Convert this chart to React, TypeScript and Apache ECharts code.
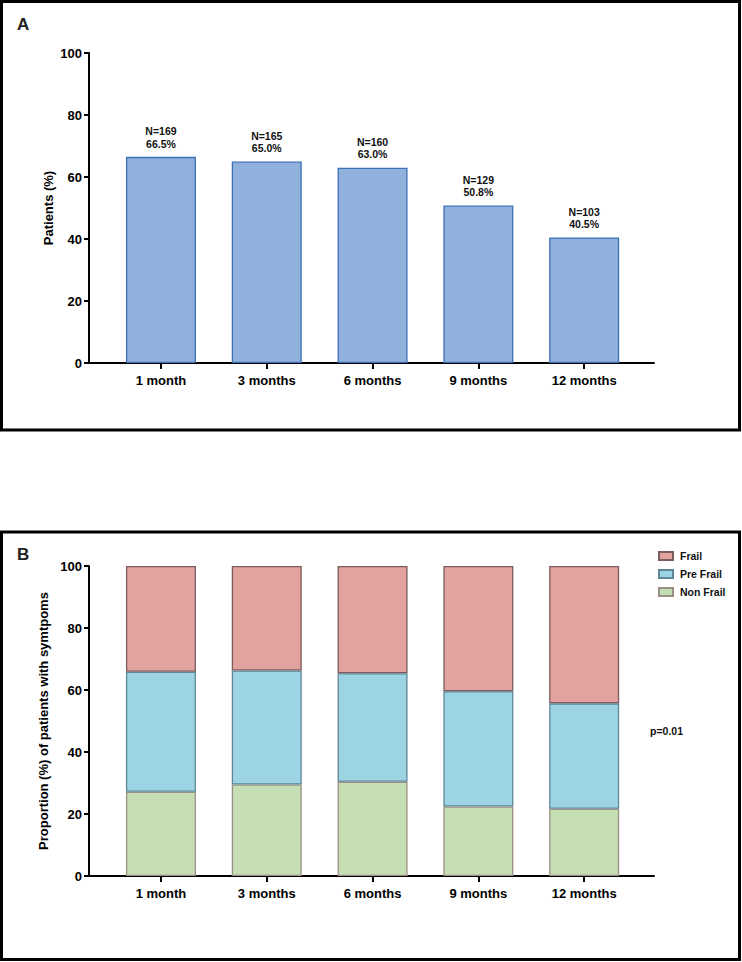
import React, { useEffect, useRef } from "react";
import * as echarts from "echarts";

const categories = ["1 month", "3 months", "6 months", "9 months", "12 months"];
const patientCounts = [169, 165, 160, 129, 103];
const patientPct = [66.5, 65.0, 63.0, 50.8, 40.5];
const nonFrail = [27.2, 29.5, 30.4, 22.4, 21.7];
const preFrail = [38.7, 36.8, 35.0, 37.2, 34.0];
const frail = [34.1, 33.7, 34.6, 40.4, 44.3];
const legendOrder = ["Frail", "Pre Frail", "Non Frail"];
const pValueText = "p=0.01";
const yAxisTitleA = "Patients (%)";
const yAxisTitleB = "Proportion (%) of patients with symtpoms";

const FONT = 'Arial, "Liberation Sans", Helvetica, sans-serif';
const positions = categories.map((_, i) => i);

export default function App() {
  const ref = useRef<HTMLDivElement>(null);
  useEffect(() => {
    document.body.style.margin = "0";
    const chart = echarts.init(ref.current!, null, { renderer: "svg" });

    const mkX = (gridIndex: number) => ({
      type: "value",
      gridIndex,
      min: -0.68,
      max: 4.66,
      splitLine: { show: false },
      axisLine: { show: true, onZero: false, lineStyle: { color: "#000", width: 2 } },
      axisTick: { show: true, customValues: positions, length: 6, lineStyle: { color: "#000", width: 2 } },
      axisLabel: {
        customValues: positions,
        formatter: (v: number) => categories[Math.round(v)] ?? "",
        color: "#000",
        fontFamily: FONT,
        fontWeight: "bold",
        fontSize: 13,
        margin: 11,
      },
    });
    const mkY = (gridIndex: number, name: string, nameGap: number) => ({
      type: "value",
      gridIndex,
      min: 0,
      max: 100,
      interval: 20,
      name,
      nameLocation: "middle",
      nameGap,
      nameMoveOverlap: false,
      nameTextStyle: { color: "#000", fontFamily: FONT, fontWeight: "bold", fontSize: 13 },
      splitLine: { show: false },
      axisLine: { show: true, onZero: false, lineStyle: { color: "#000", width: 2 } },
      axisTick: { show: true, length: 5, lineStyle: { color: "#000", width: 2 } },
      axisLabel: { color: "#000", fontFamily: FONT, fontWeight: "bold", fontSize: 13, margin: 7 },
    });

    const stackSeries = (name: string, values: number[], color: string, border: string) => ({
      name,
      type: "bar",
      xAxisIndex: 1,
      yAxisIndex: 1,
      stack: "frailty",
      barWidth: 70,
      encode: { x: 1, y: 0 },
      data: values.map((v, i) => [v, positions[i]]),
      itemStyle: { color, borderColor: border, borderWidth: 1.3 },
    });

    chart.setOption({
      animation: false,
      grid: [
        { left: 89, top: 53, width: 565, height: 310 },
        { left: 89, top: 566, width: 565, height: 310 },
      ],
      xAxis: [mkX(0), mkX(1)],
      yAxis: [mkY(0, yAxisTitleA, 34), mkY(1, yAxisTitleB, 39)],
      legend: {
        data: legendOrder,
        orient: "vertical",
        left: 653,
        top: 545,
        itemWidth: 14,
        itemHeight: 8,
        itemGap: 6,
        icon: "rect",
        textStyle: { color: "#111", fontFamily: FONT, fontWeight: "bold", fontSize: 10.5, lineHeight: 12, padding: [0, 0, 0, 2] },
      },
      graphic: [
        { type: "rect", shape: { x: 1.5, y: 1.5, width: 738, height: 428.5 }, style: { fill: "none", stroke: "#000", lineWidth: 3 }, silent: true },
        { type: "rect", shape: { x: 1.5, y: 532, width: 738, height: 427.5 }, style: { fill: "none", stroke: "#000", lineWidth: 3 }, silent: true },
        { type: "text", x: 17, y: 24, style: { text: "A", fill: "#222", font: `bold 17px ${FONT}`, verticalAlign: "middle" } },
        { type: "text", x: 17, y: 554, style: { text: "B", fill: "#222", font: `bold 17px ${FONT}`, verticalAlign: "middle" } },
        { type: "text", x: 650, y: 731, style: { text: pValueText, fill: "#111", font: `bold 10.5px ${FONT}`, verticalAlign: "middle" } },
      ],
      series: [
        {
          name: "Patients",
          type: "bar",
          xAxisIndex: 0,
          yAxisIndex: 0,
          barWidth: 70,
          data: patientPct.map((v, i) => [positions[i], v]),
          itemStyle: { color: "#8FB1DB", borderColor: "#3D6FB6", borderWidth: 1.3 },
          label: {
            show: true,
            position: "top",
            distance: 7,
            formatter: (p: any) => `N=${patientCounts[p.dataIndex]}\n${patientPct[p.dataIndex].toFixed(1)}%`,
            color: "#111",
            fontFamily: FONT,
            fontWeight: "bold",
            fontSize: 10.5,
            lineHeight: 12.5,
            align: "center",
          },
        },
        stackSeries("Non Frail", nonFrail, "#C5DEB3", "#9C8F86"),
        stackSeries("Pre Frail", preFrail, "#9DD4E3", "#5D8797"),
        stackSeries("Frail", frail, "#E2A39F", "#7B5C5C"),
      ],
    });
    return () => chart.dispose();
  }, []);
  return <div ref={ref} style={{ position: "absolute", left: 0, top: 0, width: 742, height: 962 }} />;
}
